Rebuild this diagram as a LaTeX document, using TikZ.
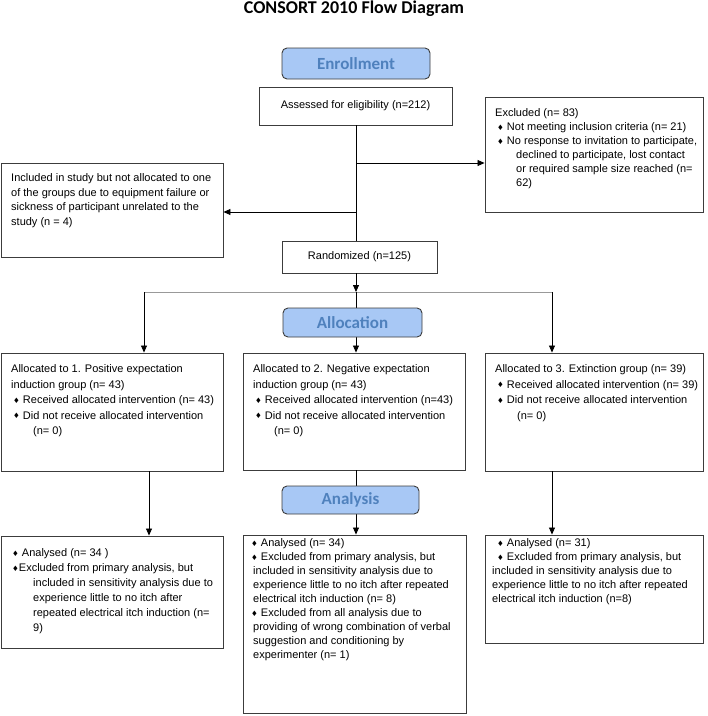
\documentclass[tikz,border=0pt]{standalone}
\usepackage{fontspec}
\setmainfont{Liberation Sans}
\newfontfamily\symfont{DejaVu Sans}
\newfontfamily\calfont{Carlito}
\usetikzlibrary{arrows.meta,calc}
\definecolor{lblfill}{RGB}{168,200,245}
\definecolor{lbltext}{RGB}{79,129,189}
\definecolor{edge}{RGB}{60,60,60}
\newcommand\bul{{\symfont\fontsize{7.5}{7.5}\selectfont\raisebox{0.6pt}{♦}}}
\begin{document}
\begin{tikzpicture}[x=1pt,y=-1pt,
  box/.style={draw=edge,line width=0.9pt,fill=white,inner sep=0pt},
  lbl/.style={draw=edge,line width=0.9pt,fill=lblfill,rounded corners=5pt,inner sep=0pt,text=lbltext,font=\calfont\bfseries\fontsize{17}{17}\selectfont},
  txt/.style={anchor=north west,inner sep=0pt,align=left},
  ctxt/.style={font=\fontsize{11}{13}\selectfont},
  arr/.style={draw=black,line width=0.8pt,-{Triangle[length=7pt,width=6pt]}},
  plain/.style={draw=black,line width=0.8pt},
  hline/.style={draw=black!40,line width=0.9pt}]
\useasboundingbox (0,0) rectangle (708,716);

\node[font=\calfont\bfseries\fontsize{18}{18}\selectfont] (title) at (354,8.5) {CONSORT 2010 Flow Diagram};

% white boxes
\node[box,ctxt,minimum width=193pt,minimum height=38pt] (assess) at (355.5,106) {Assessed for eligibility (n=212)};
\node[box,minimum width=218pt,minimum height=115pt] (excl) at (594,154.5) {};
\node[box,minimum width=222pt,minimum height=94pt] (incl) at (112,210) {};
\node[box,ctxt,minimum width=155pt,minimum height=32pt] (rand) at (359.5,257) {Randomized (n=125)};
\node[box,minimum width=222pt,minimum height=118pt] (a1) at (112,412) {};
\node[box,minimum width=222pt,minimum height=117pt] (a2) at (354,411.5) {};
\node[box,minimum width=218pt,minimum height=118pt] (a3) at (594,412) {};
\node[box,minimum width=222pt,minimum height=112pt] (b1) at (112,592) {};
\node[box,minimum width=223pt,minimum height=178pt] (b2) at (354.5,624) {};
\node[box,minimum width=218pt,minimum height=108pt] (b3) at (594,589) {};

% connectors
\coordinate (j1) at (356,163);
\coordinate (j2) at (356,212);
\coordinate (hub) at (356,292);
\coordinate (hl) at (144,292);
\coordinate (hr) at (552,292);
\draw[plain] (assess.south -| hub) -- (hub |- rand.north);
\draw[arr] (j1) -- (j1 -| excl.west);
\draw[arr] (j2) -- (j2 -| incl.east);
\draw[hline] (hl) -- (hr);
\draw[arr] (hub |- rand.south) -- (hub);
\draw[arr] (hl) -- (hl |- a1.north);
\draw[arr] (hub) -- (hub |- a2.north);
\draw[arr] (hr) -- (hr |- a3.north);
\draw[arr] ([xshift=37pt]a1.south) -- ([xshift=37pt]b1.north);
\draw[arr] (hub |- a2.south) -- (hub |- b2.north);
\draw[arr] (hr |- a3.south) -- (hr |- b3.north);

% label boxes
\node[lbl,minimum width=148pt,minimum height=31pt] (enroll) at (356,63.5) {Enrollment};
\node[lbl,minimum width=139pt,minimum height=29pt] (alloc) at (352.5,322.5) {Allocation};
\node[lbl,minimum width=137pt,minimum height=28pt] (anal) at (350.5,500) {Analysis};

% texts
\node[txt,font=\fontsize{11}{14}\selectfont] (exclt) at (495,108.5) {Excluded (n= 83)\\
\hspace*{2pt}\bul\ Not meeting inclusion criteria (n= 21)\\
\hspace*{2pt}\bul\ No response to invitation to participate,\\
\hspace*{21pt}declined to participate, lost contact\\
\hspace*{21pt}or required sample size reached (n=\\
\hspace*{21pt}62)};

\node[txt,font=\fontsize{11}{14.5}\selectfont] (inclt) at (11,173.5) {Included in study but not allocated to one\\
of the groups due to equipment failure or\\
sickness of participant unrelated to the\\
study (n = 4)};

\node[txt,font=\fontsize{11}{15.5}\selectfont] (a1t) at (11,364.5) {Allocated to 1. Positive expectation\\
induction group (n= 43)\\
\hspace*{2pt}\bul\ Received allocated intervention (n= 43)\\
\hspace*{2pt}\bul\ Did not receive allocated intervention\\
\hspace*{22pt}(n= 0)};

\node[txt,font=\fontsize{11}{15.5}\selectfont] (a2t) at (253,364.5) {Allocated to 2. Negative expectation\\
induction group (n= 43)\\
\hspace*{2pt}\bul\ Received allocated intervention (n=43)\\
\hspace*{2pt}\bul\ Did not receive allocated intervention\\
\hspace*{21pt}(n= 0)};

\node[txt,font=\fontsize{11}{15.5}\selectfont] (a3t) at (495,364.5) {Allocated to 3. Extinction group (n= 39)\\
\hspace*{2pt}\bul\ Received allocated intervention (n= 39)\\
\hspace*{2pt}\bul\ Did not receive allocated intervention\\
\hspace*{22pt}(n= 0)};

\node[txt,font=\fontsize{11}{15}\selectfont] (b1t) at (11,548.5) {\hspace*{1pt}\bul\ Analysed (n= 34 )\\
\hspace*{1pt}\bul Excluded from primary analysis, but\\
\hspace*{22pt}included in sensitivity analysis due to\\
\hspace*{22pt}experience little to no itch after\\
\hspace*{22pt}repeated electrical itch induction (n=\\
\hspace*{22pt}9)};

\node[txt,font=\fontsize{11}{14}\selectfont] (b2t) at (251,538.5) {\bul\ Analysed (n= 34)\\
\bul\ Excluded from primary analysis, but\\
\hspace*{2pt}included in sensitivity analysis due to\\
\hspace*{2pt}experience little to no itch after repeated\\
\hspace*{2pt}electrical itch induction (n= 8)\\
\bul\ Excluded from all analysis due to\\
\hspace*{2pt}providing of wrong combination of verbal\\
\hspace*{2pt}suggestion and conditioning by\\
\hspace*{2pt}experimenter (n= 1)};

\node[txt,font=\fontsize{11}{14}\selectfont] (b3t) at (492,538.5) {\hspace*{5pt}\bul\ Analysed (n= 31)\\
\hspace*{5pt}\bul\ Excluded from primary analysis, but\\
included in sensitivity analysis due to\\
experience little to no itch after repeated\\
electrical itch induction (n=8)};
\end{tikzpicture}
\end{document}
